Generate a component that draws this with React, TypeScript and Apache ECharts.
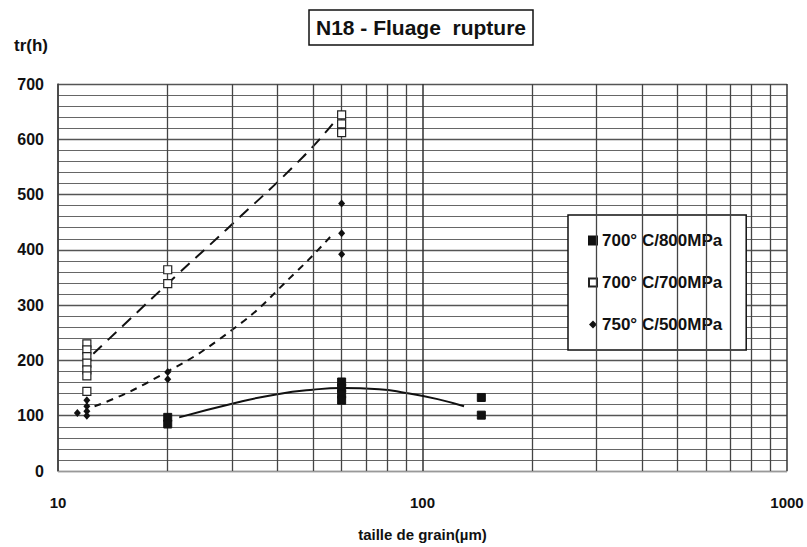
import React, { useEffect, useRef } from "react";
import * as echarts from "echarts";

const FONT = "'Liberation Sans', Arial, sans-serif";

const titleText = "N18 - Fluage  rupture";
const yTitle = "tr(h)";
const xTitle = "taille de grain(µm)";
const seriesNames = ["700° C/800MPa", "700° C/700MPa", "750° C/500MPa"];

// measured points [grain size µm, rupture time h]
const pts800: [number, number][] = [
  [20, 97], [20, 85],
  [60, 161], [60, 150], [60, 139], [60, 128],
  [145, 133], [145, 101],
];
const pts700: [number, number][] = [
  [12, 230], [12, 219], [12, 207], [12, 195], [12, 183], [12, 172], [12, 144],
  [20, 364], [20, 339],
  [60, 644], [60, 628], [60, 612],
];
const pts500: [number, number][] = [
  [11.3, 105], [12, 128], [12, 117], [12, 108], [12, 100],
  [20, 179], [20, 166],
  [60, 484], [60, 430], [60, 392],
];

// trend curves
const fit800: [number, number][] = [
  [21.5, 97], [31, 124], [40, 139], [50, 147], [60, 150], [76, 148], [90, 141], [110, 130], [130, 117],
];
const fit700: [number, number][] = [
  [12.5, 212], [21, 352], [29, 437], [47, 568], [58, 636],
];
const fit500: [number, number][] = [
  [12.6, 117], [17.6, 160], [30, 255], [45, 360], [57, 430],
];

// minor vertical grid values on the log axis
const minorX = [20, 30, 40, 50, 60, 70, 80, 90, 200, 300, 400, 500, 600, 700, 800, 900];

export default function App() {
  const ref = useRef<HTMLDivElement>(null);
  useEffect(() => {
    document.body.style.margin = "0";
    const chart = echarts.init(ref.current!, undefined, { renderer: "svg" });
    const txt = { fontFamily: FONT, fontWeight: "bold" as const, color: "#111" };
    chart.setOption({
      animation: false,
      backgroundColor: "#fff",
      title: {
        text: titleText,
        left: 309,
        top: 10,
        padding: [7, 7, 7, 7],
        borderColor: "#111",
        borderWidth: 1.5,
        textStyle: { ...txt, fontSize: 21 },
      },
      graphic: [
        {
          type: "text",
          left: 14,
          top: 37,
          style: { text: yTitle, font: `bold 17px ${FONT}`, fill: "#111" },
        },
      ],
      legend: {
        orient: "vertical",
        left: 568,
        top: 215,
        padding: [17, 24, 17, 20],
        itemGap: 25,
        itemWidth: 8,
        itemHeight: 8,
        backgroundColor: "#fff",
        borderColor: "#111",
        borderWidth: 1.5,
        textStyle: { ...txt, fontSize: 17 },
        data: [
          { name: seriesNames[0], icon: "rect" },
          { name: seriesNames[1], icon: "rect" },
          { name: seriesNames[2], icon: "diamond" },
        ],
      },
      grid: { left: 58, right: 20, top: 84, bottom: 75 },
      xAxis: {
        type: "log",
        logBase: 10,
        min: 10,
        max: 1000,
        name: xTitle,
        nameLocation: "middle",
        nameGap: 56,
        nameTextStyle: { ...txt, fontSize: 15 },
        axisLine: { show: true, lineStyle: { color: "#999", width: 1 } },
        axisTick: { show: false },
        axisLabel: { ...txt, fontSize: 15, margin: 24, formatter: (v: number) => String(Math.round(v)) },
        splitLine: { show: true, lineStyle: { color: "#333", width: 1.5 } },
      },
      yAxis: {
        type: "value",
        min: 0,
        max: 700,
        interval: 100,
        axisLine: { show: true, lineStyle: { color: "#444", width: 1.5 } },
        axisTick: { show: false },
        axisLabel: { ...txt, fontSize: 16, margin: 14 },
        splitLine: { show: true, lineStyle: { color: "#555", width: 1.3 } },
        minorTick: { show: false, splitNumber: 5 },
        minorSplitLine: { show: true, lineStyle: { color: "#666", width: 1.2 } },
      },
      series: [
        {
          type: "line",
          data: [],
          silent: true,
          z: 1,
          markLine: {
            silent: true,
            symbol: ["none", "none"],
            label: { show: false },
            lineStyle: { type: "solid", color: "#444", width: 1.3 },
            data: minorX.map((v) => ({ xAxis: v })),
          },
        },
        {
          type: "line",
          data: fit800,
          smooth: true,
          symbol: "none",
          z: 3,
          lineStyle: { color: "#111", width: 2 },
        },
        {
          type: "line",
          data: fit700,
          smooth: true,
          symbol: "none",
          z: 3,
          lineStyle: { color: "#111", width: 2, type: [12, 8] },
        },
        {
          type: "line",
          data: fit500,
          smooth: true,
          symbol: "none",
          z: 3,
          lineStyle: { color: "#111", width: 2, type: [7, 6] },
        },
        {
          name: seriesNames[0],
          type: "scatter",
          data: pts800,
          symbol: "rect",
          symbolSize: 8,
          z: 5,
          itemStyle: { color: "#111", borderColor: "#111", borderWidth: 1, opacity: 1 },
        },
        {
          name: seriesNames[1],
          type: "scatter",
          data: pts700,
          symbol: "rect",
          symbolSize: 8,
          z: 5,
          itemStyle: { color: "#fff", borderColor: "#222", borderWidth: 1.2, opacity: 1 },
        },
        {
          name: seriesNames[2],
          type: "scatter",
          data: pts500,
          symbol: "diamond",
          symbolSize: [7, 8],
          z: 5,
          itemStyle: { color: "#111", opacity: 1 },
        },
      ],
    });
    return () => chart.dispose();
  }, []);
  return <div ref={ref} style={{ width: 807, height: 547 }} />;
}
